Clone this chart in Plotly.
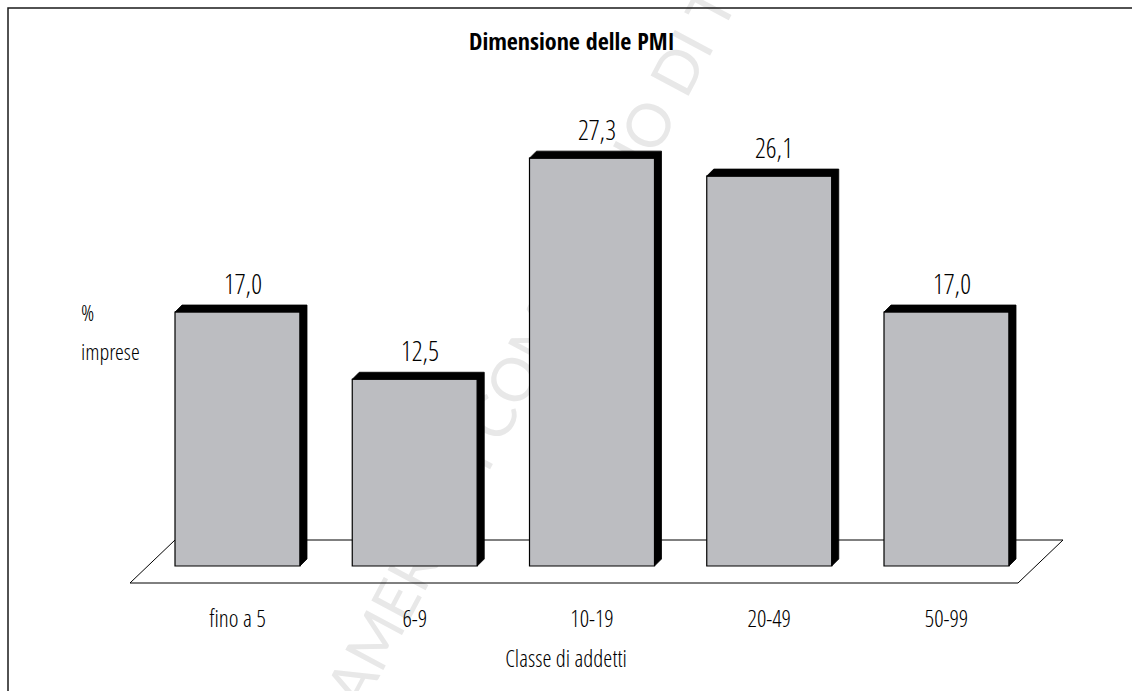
import plotly.graph_objects as go

# ---- data ---------------------------------------------------------------
categories = ["fino a 5", "6-9", "10-19", "20-49", "50-99"]
values = [17.0, 12.5, 27.3, 26.1, 17.0]

title_text = "Dimensione delle PMI"
x_title = "Classe di addetti"
y_title_lines = ["%", "imprese"]
watermark = "CAMERA DI COMMERCIO DI TORINO"

# ---- geometry -----------------------------------------------------------
W, H = 1132, 691
X0_PX, X_STEP = 237.5, 177.25      # pixel of category 0, pixels per category
Y0_PX, Y_STEP = 566.0, 14.94       # pixel of value 0, pixels per unit


def px_x(p):
    return (p - X0_PX) / X_STEP


def px_y(p):
    return (Y0_PX - p) / Y_STEP


BAR_W = 125 / X_STEP
DEPTH_X = 7 / X_STEP
DEPTH_Y = 7 / Y_STEP

FONT = ("Open Sans Condensed Light, Open Sans Cond Light, Roboto Condensed, "
        "DejaVu Sans Condensed, sans-serif")
FONT_BOLD = "Open Sans Condensed, DejaVu Sans Condensed, sans-serif"
FACE = "#BCBDC1"

pos = list(range(len(categories)))
labels = [f"{v:.1f}".replace(".", ",") for v in values]


def txt(size):
    return dict(family=FONT, size=size, color="black", weight=300)


fig = go.Figure()

# front faces of the bars
fig.add_trace(go.Bar(
    x=pos, y=values, width=BAR_W,
    marker=dict(color=FACE, line=dict(color="black", width=1.2)),
    hoverinfo="skip",
))

# black top + right side faces giving the 3-D look
for i, v in zip(pos, values):
    xl, xr = i - BAR_W / 2, i + BAR_W / 2
    fig.add_trace(go.Scatter(
        x=[xl, xl + DEPTH_X, xr + DEPTH_X, xr + DEPTH_X, xr, xr, xl],
        y=[v, v + DEPTH_Y, v + DEPTH_Y, DEPTH_Y, 0, v, v],
        mode="lines", fill="toself", fillcolor="black",
        line=dict(color="black", width=0.8),
        hoverinfo="skip",
    ))

# floor parallelogram under the bars
back_y = 26 / Y_STEP
front_y = -17 / Y_STEP
back_l = pos[0] - BAR_W / 2
back_r = pos[-1] + BAR_W / 2 + 54 / X_STEP
slant = 45 / X_STEP
floor_path = (f"M {back_l - slant},{front_y} L {back_r - slant},{front_y} "
              f"L {back_r},{back_y} L {back_l},{back_y} Z")

shapes = [
    # faint diagonal watermark
    dict(type="line", xref="paper", yref="paper",
         x0=330 / W, y0=1 - 720 / H, x1=800 / W, y1=1 + 166 / H,
         line=dict(color="rgba(0,0,0,0)", width=0), layer="below",
         label=dict(text=watermark, textangle=-62, textposition="middle",
                    yanchor="middle",
                    font=dict(family="Lato, Noto Sans, sans-serif", size=60,
                              color="#E8E8E8"))),
    dict(type="path", xref="x", yref="y", path=floor_path,
         line=dict(color="black", width=1), fillcolor="rgba(0,0,0,0)",
         layer="below"),
    # frame (top and left edges)
    dict(type="rect", xref="paper", yref="paper",
         x0=8 / W, y0=-0.05, x1=1.05, y1=1 - 8 / H,
         line=dict(color="#1a1a1a", width=1.5), layer="above"),
]

annotations = [
    dict(text=title_text, xref="paper", yref="paper",
         x=572 / W, y=1 - 40 / H, xanchor="center", yanchor="middle",
         showarrow=False,
         font=dict(family=FONT_BOLD, size=24, color="black", weight=700)),
]
for line, ypx in zip(y_title_lines, [312, 351]):
    annotations.append(dict(
        text=line, xref="paper", yref="paper", x=79 / W, y=1 - ypx / H,
        xanchor="left", yanchor="middle", showarrow=False, font=txt(22.5)))
for i, v, t in zip(pos, values, labels):
    annotations.append(dict(
        text=t, xref="x", yref="y", x=i, y=v, xshift=5, yshift=29,
        xanchor="center", yanchor="middle", showarrow=False, font=txt(27)))

fig.update_layout(
    width=W, height=H, autosize=False,
    margin=dict(l=0, r=0, t=0, b=0, pad=0),
    paper_bgcolor="white", plot_bgcolor="white",
    showlegend=False, barmode="overlay",
    shapes=shapes, annotations=annotations,
    xaxis=dict(
        range=[px_x(0), px_x(W)], tickvals=pos, ticktext=categories,
        showgrid=False, zeroline=False, showline=False, ticks="",
        anchor="free", position=1 - 602 / H,
        tickfont=txt(23.5),
        title=dict(text=x_title, standoff=18, font=txt(23)),
        fixedrange=True,
    ),
    yaxis=dict(range=[px_y(H), px_y(0)], visible=False, fixedrange=True),
)

fig.write_html("out.html")
